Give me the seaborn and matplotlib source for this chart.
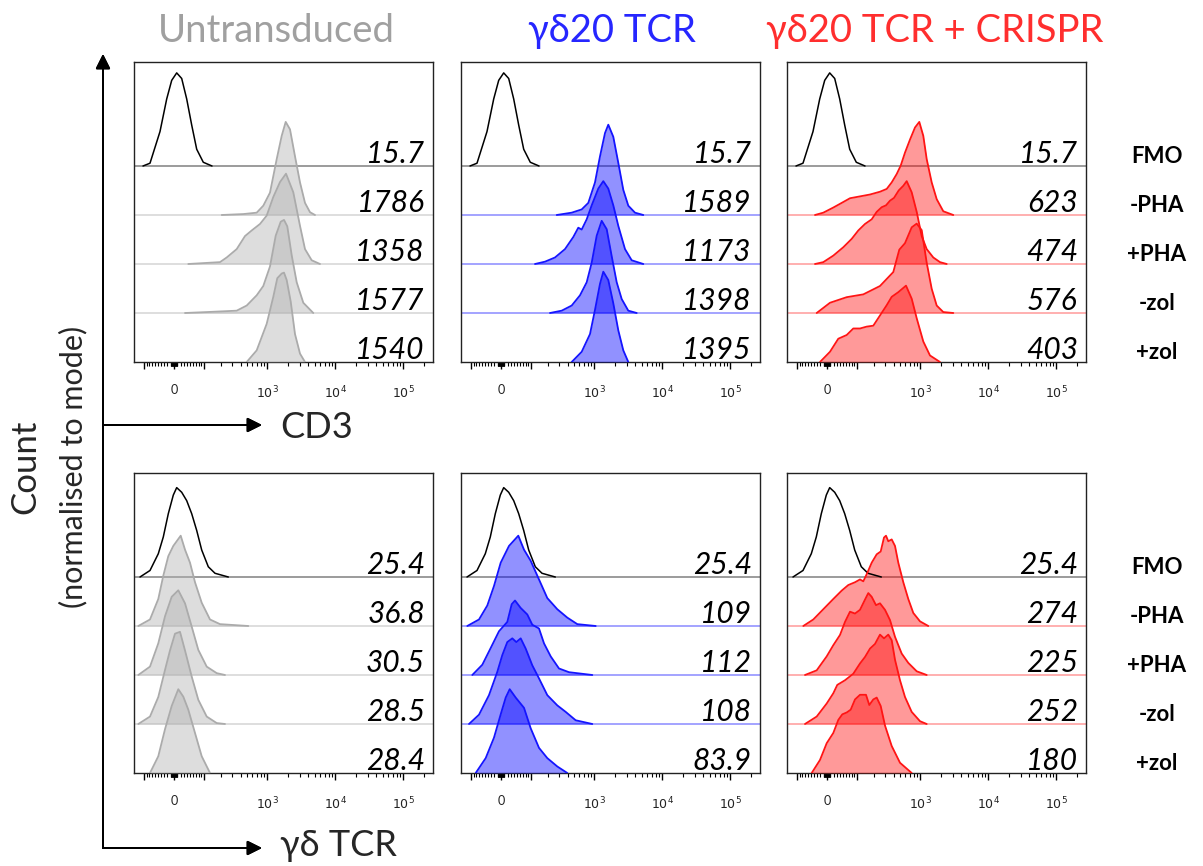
import numpy as np
import matplotlib
matplotlib.use("Agg")
import matplotlib.pyplot as plt
import matplotlib.transforms as mtransforms
import seaborn as sns
import pandas as pd

sns.set_theme(style="white")
plt.rcParams['font.family'] = ['Lato', 'DejaVu Sans']
plt.rcParams['mathtext.fontset'] = 'dejavusans'

# ---------------- data ----------------
column_titles = ["Untransduced", "γδ20 TCR", "γδ20 TCR + CRISPR"]
row_markers = ["CD3", "γδ TCR"]
conditions = ["FMO", "-PHA", "+PHA", "-zol", "+zol"]

cd3_mfi_untransduced = ["15.7", "1786", "1358", "1577", "1540"]
cd3_mfi_tcr = ["15.7", "1589", "1173", "1398", "1395"]
cd3_mfi_crispr = ["15.7", "623", "474", "576", "403"]
gd_mfi_untransduced = ["25.4", "36.8", "30.5", "28.5", "28.4"]
gd_mfi_tcr = ["25.4", "109", "112", "108", "83.9"]
gd_mfi_crispr = ["25.4", "274", "225", "252", "180"]

# histogram profiles: (display channel, count normalised to mode)
cd3_fmo = [(9, 0), (16, 0.03), (26, 0.37), (32.7, 0.72), (37.7, 0.92), (42.7, 1.0),
           (47.7, 0.94), (52.7, 0.72), (57.7, 0.44), (62.7, 0.18), (69.3, 0.04), (78, 0)]

cd3_ut_mpha = [(87.7, 0), (109.3, 0.01), (122.7, 0.025), (129.3, 0.1), (136, 0.24), (142.7, 0.6),
               (147.7, 0.85), (151.7, 1.0), (156, 0.92), (161, 0.63), (166, 0.35), (171, 0.13),
               (176, 0.03), (181, 0)]
cd3_ut_ppha = [(54.3, 0), (86, 0.02), (92.7, 0.07), (102.7, 0.16), (111, 0.3), (117.7, 0.36),
               (126, 0.43), (132.7, 0.52), (139.3, 0.72), (146, 0.88), (152, 0.97), (159.3, 0.77),
               (166, 0.41), (171, 0.16), (177.7, 0.04), (186, 0)]
cd3_ut_mzol = [(51, 0), (72.7, 0.01), (102.7, 0.025), (112.7, 0.08), (122.7, 0.19), (129.3, 0.29),
               (136, 0.5), (141.7, 0.83), (146.7, 0.98), (150, 1.0), (153.3, 0.93), (157.7, 0.62),
               (162.7, 0.33), (169.3, 0.11), (179.3, 0)]
cd3_ut_pzol = [(112.7, 0), (122.7, 0.125), (132.7, 0.41), (139.3, 0.7), (143.3, 0.9), (147.7, 0.95),
               (150, 0.96), (152.7, 0.88), (156.7, 0.65), (161, 0.3), (166, 0.09), (171, 0)]

cd3_tcr_mpha = [(95.7, 0), (110.7, 0.025), (120.7, 0.06), (127.3, 0.13), (134, 0.35), (139, 0.63),
                (144, 0.88), (147.3, 0.97), (152.3, 0.84), (157.3, 0.56), (162.3, 0.27), (167.3, 0.1),
                (174, 0.025), (182.3, 0)]
cd3_tcr_ppha = [(74, 0), (84, 0.025), (94, 0.07), (104, 0.16), (112.3, 0.29), (117.3, 0.39),
                (120.7, 0.37), (125.7, 0.48), (130.7, 0.63), (137.3, 0.81), (142.3, 0.89), (147.3, 0.81),
                (152.3, 0.63), (157.3, 0.41), (164, 0.16), (170.7, 0.04), (182.3, 0)]
cd3_tcr_mzol = [(89, 0), (100.7, 0.025), (110.7, 0.08), (119, 0.19), (125.7, 0.33), (130.7, 0.54),
                (135.7, 0.83), (140.7, 0.99), (145.7, 0.9), (150.7, 0.61), (155.7, 0.33), (160.7, 0.15),
                (167.3, 0.025), (175.7, 0)]
cd3_tcr_pzol = [(110.7, 0), (120.7, 0.11), (129, 0.3), (134, 0.56), (139, 0.84), (142.3, 0.97),
                (147.3, 0.88), (152.3, 0.63), (157.3, 0.34), (162.3, 0.125), (167.3, 0)]

cd3_cr_mpha = [(28, 0), (36.3, 0.025), (46.3, 0.08), (54.7, 0.13), (63, 0.18), (73, 0.2), (83, 0.22),
               (93, 0.25), (99.7, 0.28), (104.7, 0.35), (109.7, 0.44), (113.7, 0.53), (118, 0.67),
               (123, 0.81), (128, 0.94), (132.3, 1.0), (136.3, 0.85), (139.7, 0.6), (144.7, 0.35),
               (149.7, 0.17), (156.3, 0.04), (166.3, 0)]
cd3_cr_ppha = [(28, 0), (36.3, 0.02), (46.3, 0.09), (56.3, 0.18), (64.7, 0.27), (71.3, 0.36), (78, 0.43),
               (84.7, 0.48), (89.7, 0.56), (94.7, 0.61), (99, 0.63), (103, 0.68), (107, 0.71),
               (111.7, 0.79), (116.3, 0.84), (119.7, 0.89), (124.7, 0.77), (129.7, 0.56), (134.7, 0.3),
               (139.7, 0.16), (146.3, 0.07), (153, 0.02), (159.7, 0)]
cd3_cr_mzol = [(29.7, 0), (43, 0.11), (59.7, 0.17), (76.3, 0.2), (93, 0.29), (106.3, 0.44),
               (112.3, 0.68), (118, 0.75), (124.7, 0.92), (129.7, 0.96), (134.7, 0.89), (139.7, 0.54),
               (144.7, 0.26), (149.7, 0.08), (156.3, 0.01), (166.3, 0)]
cd3_cr_pzol = [(33, 0), (43, 0.11), (51.3, 0.25), (59.7, 0.29), (66.3, 0.36), (73, 0.36), (79.7, 0.38),
               (86.3, 0.39), (93, 0.5), (99.7, 0.61), (104.7, 0.7), (111.3, 0.75), (119, 0.82),
               (124.7, 0.68), (129.7, 0.47), (136.3, 0.22), (143, 0.07), (153, 0)]

gd_fmo = [(6, 0), (16, 0.07), (24.3, 0.25), (29.3, 0.43), (34.3, 0.68), (39.3, 0.88), (42.7, 0.96),
          (47.7, 0.91), (52.7, 0.82), (57.7, 0.68), (62.7, 0.5), (67.7, 0.29), (74.3, 0.11),
          (81, 0.04), (94.3, 0)]

gd_ut_mpha = [(4.3, 0), (16, 0.07), (24.3, 0.29), (29.3, 0.54), (34.3, 0.75), (39.3, 0.86), (46.7, 0.97),
              (51, 0.82), (56, 0.68), (61, 0.47), (67.7, 0.25), (76, 0.07), (86, 0.02), (114.3, 0)]
gd_ut_ppha = [(4.3, 0), (16, 0.09), (24.3, 0.34), (31, 0.63), (37.7, 0.84), (44.3, 0.91), (51, 0.77),
              (57.7, 0.52), (64.3, 0.27), (72.7, 0.09), (82.7, 0.02), (91, 0)]
gd_ut_mzol = [(4.3, 0), (16, 0.08), (24.3, 0.29), (31, 0.58), (36, 0.79), (41, 0.97), (46, 0.99),
              (51, 0.79), (57.7, 0.51), (64.3, 0.26), (72.7, 0.08), (82.7, 0.01), (91, 0)]
gd_ut_pzol = [(16, 0), (24.3, 0.18), (31, 0.47), (37.7, 0.72), (44.3, 0.9), (49.3, 0.82), (54.3, 0.68),
              (61, 0.43), (67.7, 0.18), (76, 0)]

gd_tcr_mpha = [(6.3, 0), (18, 0.07), (26.3, 0.22), (33, 0.43), (39.7, 0.68), (48, 0.86), (57.3, 0.97),
               (63, 0.82), (69.7, 0.7), (78, 0.5), (86.3, 0.3), (96.3, 0.18), (106.3, 0.09),
               (116.3, 0.02), (134.7, 0)]
gd_tcr_ppha = [(11.3, 0), (21.3, 0.11), (29.7, 0.29), (38, 0.47), (46.3, 0.57), (50.7, 0.76), (54, 0.8),
               (59.7, 0.72), (66.3, 0.65), (71.3, 0.54), (78, 0.5), (83, 0.34), (89.7, 0.2), (98, 0.07),
               (108, 0.03), (131.3, 0)]
gd_tcr_mzol = [(8, 0), (18, 0.1), (28, 0.31), (36.3, 0.56), (41.3, 0.74), (46.3, 0.88), (51.3, 0.92),
               (55.3, 0.88), (59.7, 0.92), (64.7, 0.81), (71.3, 0.63), (78, 0.49), (86.3, 0.31),
               (96.3, 0.2), (104.7, 0.13), (114.7, 0.04), (131.3, 0)]
gd_tcr_pzol = [(14.7, 0), (24.7, 0.16), (33, 0.38), (39.7, 0.63), (44.7, 0.81), (48.7, 0.9), (54.7, 0.81),
               (63, 0.7), (69.7, 0.48), (78, 0.27), (86.3, 0.16), (96.3, 0.07), (106.3, 0)]

gd_cr_mpha = [(16.3, 0), (26.3, 0.07), (36.3, 0.18), (46.3, 0.29), (54.7, 0.38), (61.3, 0.44), (68, 0.47),
              (73, 0.5), (76.3, 0.48), (80.3, 0.57), (84.7, 0.68), (89.7, 0.77), (93.7, 0.8), (97, 0.95),
              (99, 0.97), (101.3, 0.91), (104.7, 0.93), (108, 0.86), (111.3, 0.68), (116.3, 0.47),
              (121.3, 0.29), (126.3, 0.14), (133, 0.05), (141.3, 0)]
gd_cr_ppha = [(18, 0), (29.7, 0.05), (39.7, 0.2), (46.3, 0.32), (53, 0.43), (58, 0.57), (63, 0.68),
              (68, 0.66), (73, 0.7), (78, 0.81), (81.3, 0.88), (84.7, 0.84), (89, 0.75), (93, 0.77),
              (98, 0.7), (103, 0.59), (108, 0.41), (114.7, 0.23), (121.3, 0.13), (129.7, 0.04), (139.7, 0)]
gd_cr_mzol = [(18, 0), (29.7, 0.08), (39.7, 0.22), (46.3, 0.33), (50.3, 0.42), (58, 0.47), (66.3, 0.54),
              (73, 0.65), (78, 0.72), (83, 0.81), (88, 0.86), (93, 0.96), (97, 0.92), (101.3, 0.96),
              (104.7, 0.9), (108, 0.69), (113, 0.47), (118, 0.29), (124.7, 0.13), (133, 0.03), (139.7, 0)]
gd_cr_pzol = [(24.7, 0), (33, 0.14), (39.7, 0.32), (46.3, 0.43), (51.3, 0.57), (55.3, 0.63), (59.7, 0.65),
              (63.7, 0.68), (68, 0.79), (73, 0.84), (79, 0.84), (82.3, 0.73), (86.3, 0.79), (89.7, 0.81),
              (93.7, 0.72), (98, 0.51), (104.7, 0.29), (113, 0.11), (124.7, 0)]

# axis tick values (fluorescence)
major_tick_values = [-100, 0, 100, 1e3, 1e4, 1e5]
major_tick_labels = ["", "0", "", r"$10^{3}$", r"$10^{4}$", r"$10^{5}$"]
minor_tick_values = ([s * k for s in (-1, 1) for k in range(1, 10)] +
                     [s * 10 * k for s in (-1, 1) for k in range(1, 10)] +
                     [m * 10 ** e for e in (2, 3, 4) for m in range(2, 10)] + [2e5])

# ---------------- styling ----------------
title_colors = ["#a0a0a0", "#2626ff", "#ff2e2e"]
fill_colors = ["#b4b4b4", "#0000ff", "#ff0000"]
fill_alpha = [0.45, 0.43, 0.40]
edge_colors = ["#ababab", "#1414ff", "#ff1414"]
lane_line_colors = ["#d4d4d4", "#8a8aff", "#ff9a9a"]

W, H = 1203, 866
fig = plt.figure(figsize=(W / 100, H / 100), dpi=100)

def channel(v):
    return 40 + 68 * np.arcsinh(np.asarray(v, dtype=float) / 85.0) / np.log(10)

col_left = [134, 461, 787]
row_top = [62, 473]
panel_w, panel_h = 299, 300
lane_step = 49.0
peak_scale = 1.9
ymax = panel_h / lane_step

panels = [
    [(cd3_mfi_untransduced, [cd3_fmo, cd3_ut_mpha, cd3_ut_ppha, cd3_ut_mzol, cd3_ut_pzol]),
     (cd3_mfi_tcr, [cd3_fmo, cd3_tcr_mpha, cd3_tcr_ppha, cd3_tcr_mzol, cd3_tcr_pzol]),
     (cd3_mfi_crispr, [cd3_fmo, cd3_cr_mpha, cd3_cr_ppha, cd3_cr_mzol, cd3_cr_pzol])],
    [(gd_mfi_untransduced, [gd_fmo, gd_ut_mpha, gd_ut_ppha, gd_ut_mzol, gd_ut_pzol]),
     (gd_mfi_tcr, [gd_fmo, gd_tcr_mpha, gd_tcr_ppha, gd_tcr_mzol, gd_tcr_pzol]),
     (gd_mfi_crispr, [gd_fmo, gd_cr_mpha, gd_cr_ppha, gd_cr_mzol, gd_cr_pzol])],
]

for r in range(2):
    for c in range(3):
        mfis, curves = panels[r][c]
        ax = fig.add_axes([col_left[c] / W, 1 - (row_top[r] + panel_h) / H, panel_w / W, panel_h / H])
        ax.set_xlim(0, panel_w)
        ax.set_ylim(0, ymax)
        blend = mtransforms.blended_transform_factory(ax.transAxes, ax.transData)
        # lane lines
        for i in range(4):
            lane = 4 - i
            col = "#808080" if i == 0 else lane_line_colors[c]
            ax.axhline(lane, color=col, lw=1.1, zorder=1)
        for i, (prof, cond) in enumerate(zip(curves, conditions)):
            lane = 4 - i
            df = pd.DataFrame(prof, columns=["channel", "count"])
            df["y"] = lane + df["count"] * peak_scale
            if i == 0:
                sns.lineplot(data=df, x="channel", y="y", ax=ax, color="black", lw=1.1,
                             sort=False, estimator=None, zorder=5 + i)
            else:
                ax.fill_between(df["channel"], lane, df["y"], color=fill_colors[c],
                                alpha=fill_alpha[c], lw=0, zorder=3 + i)
                sns.lineplot(data=df, x="channel", y="y", ax=ax, color=edge_colors[c], lw=1.3,
                             sort=False, estimator=None, zorder=4 + i)
            ax.text(0.973, lane + 0.07, mfis[i], transform=blend,
                    ha="right", va="baseline", fontsize=21.5, style="italic", color="black", zorder=20)
            if c == 2:
                ax.text((1157 - col_left[2]) / panel_w, lane + 0.07, cond, transform=blend,
                        ha="center", va="baseline", fontsize=16, fontweight="bold", color="black")
        ax.set_xlabel("")
        ax.set_ylabel("")
        ax.set_yticks([])
        ax.set_xticks(channel(major_tick_values))
        ax.set_xticklabels(major_tick_labels)
        ax.set_xticks(channel(minor_tick_values), minor=True)
        ax.tick_params(axis="x", which="major", bottom=True, length=5, width=1.0, pad=11,
                       labelsize=9, color="black", labelcolor="#222222", direction="out")
        ax.tick_params(axis="x", which="minor", bottom=True, length=3, width=0.8, color="black",
                       direction="out")
        for sp in ax.spines.values():
            sp.set_color("#222222")
            sp.set_linewidth(1.0)
            sp.set_visible(True)

# column titles
title_x = [276, 612, 935]
for t, x, col in zip(column_titles, title_x, title_colors):
    fig.text(x / W, 1 - 31 / H, t, ha="center", va="center", fontsize=27.5, color=col)

# axis arrows
arrow_kw = dict(arrowstyle="-|>", lw=1.4, color="black", mutation_scale=22, shrinkA=0, shrinkB=0)
fig.add_artist(plt.annotate("", xy=(103, H - 54), xytext=(103, H - 848), xycoords="figure pixels",
                            textcoords="figure pixels", arrowprops=arrow_kw))
fig.add_artist(plt.annotate("", xy=(262, H - 425), xytext=(103, H - 425), xycoords="figure pixels",
                            textcoords="figure pixels", arrowprops=arrow_kw))
fig.add_artist(plt.annotate("", xy=(262, H - 848), xytext=(103, H - 848), xycoords="figure pixels",
                            textcoords="figure pixels", arrowprops=arrow_kw))
fig.text(280 / W, 1 - 428 / H, row_markers[0], ha="left", va="center", fontsize=26)
fig.text(280 / W, 1 - 846 / H, row_markers[1], ha="left", va="center", fontsize=26)
fig.text(25 / W, 1 - 467 / H, "Count", rotation=90, ha="center", va="center", fontsize=25)
fig.text(73 / W, 1 - 467 / H, "(normalised to mode)", rotation=90, ha="center", va="center", fontsize=22)

fig.savefig("out.png", dpi=100)
